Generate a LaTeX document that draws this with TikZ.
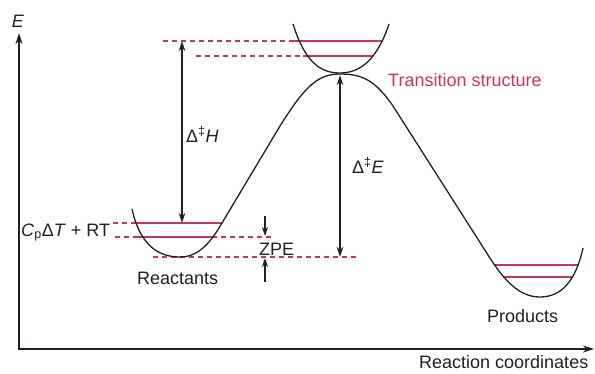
\documentclass[tikz,border=0pt]{standalone}
\usepackage{fontspec}
\setmainfont{Liberation Sans}
\usetikzlibrary{arrows.meta}
\definecolor{mag}{RGB}{200,50,105}
\definecolor{ink}{RGB}{35,31,32}
\begin{document}
\begin{tikzpicture}[x=1pt,y=-1pt,
  every node/.style={font=\fontsize{18}{21}\selectfont, text=ink, inner sep=0pt},
  curve/.style={draw=ink, line width=1.3pt},
  lvl/.style={draw=mag, line width=1.4pt},
  lvldash/.style={draw=mag, line width=1.4pt, dash pattern=on 5pt off 4pt},
  axis/.style={draw=ink, line width=2pt, {Stealth[length=11pt,width=7pt]}-{Stealth[length=11pt,width=7pt]}},
  dbl/.style={draw=ink, line width=1.5pt, {Stealth[length=10pt,width=6.5pt]}-{Stealth[length=10pt,width=6.5pt]}},
  sgl/.style={draw=ink, line width=1.5pt, -{Stealth[length=9pt,width=6pt]}}]
\useasboundingbox (0,0) rectangle (595,373);

% axes
\coordinate (O) at (19,349);
\coordinate (Ytop) at (19,33);
\coordinate (Xend) at (594,349);
\draw[axis] (Ytop) -- (O) -- (Xend);

% energy levels (dashed guides)
\draw[lvldash] (163,41) -- (298,41);
\draw[lvldash] (196,56) -- (305,56);
\draw[lvldash] (113,223) -- (136,223);
\draw[lvldash] (115,237) -- (140,237);
\draw[lvldash] (212,237) -- (273,237);
\draw[lvldash] (153,257) -- (358,257);

% energy levels (solid)
\draw[lvl] (293,41) -- (382,41);
\draw[lvl] (303,56) -- (373,56);
\draw[lvl] (133,223) -- (222,223);
\draw[lvl] (138,237) -- (212,237);
\draw[lvl] (494,265) -- (578,265);
\draw[lvl] (503,277) -- (573,277);

% potential curve
\draw[curve] (132,209) .. controls (140,245) and (158,257) .. (180,257)
  .. controls (200,257) and (212,240) .. (222,223) -- (280,126)
  .. controls (305,86) and (318,74) .. (340,74)
  .. controls (362,74) and (375,80) .. (393,106) -- (488,255)
  .. controls (505,282) and (520,297) .. (540,297)
  .. controls (562,297) and (576,280) .. (583,248);
% transition structure well
\draw[curve] (293,24) .. controls (305,62) and (320,73) .. (340,73)
  .. controls (360,73) and (377,60) .. (389,24);

% arrows
\coordinate (Ht) at (182,41);
\coordinate (Hb) at (182,223);
\draw[dbl] (Ht) -- (Hb);
\coordinate (Et) at (340,75);
\coordinate (Eb) at (340,257);
\draw[dbl] (Et) -- (Eb);
\coordinate (Z1s) at (265,216);
\coordinate (Z1e) at (265,236);
\coordinate (Z2s) at (265,282);
\coordinate (Z2e) at (265,258);
\draw[sgl] (Z1s) -- (Z1e);
\draw[sgl] (Z2s) -- (Z2e);

% labels
\node[anchor=base] (lE) at (18,27) {\textit{E}};
\node[anchor=base west] (lH) at (186,142) {Δ\textsuperscript{‡}\textit{H}};
\node[anchor=base west] (lDE) at (352,173) {Δ\textsuperscript{‡}\textit{E}};
\node[anchor=base west, text=mag] (lTS) at (388,86) {Transition structure};
\node[anchor=base west] (lCp) at (21,236) {\textit{C}\textsubscript{p}Δ\textit{T} + RT};
\node[anchor=base west] (lZPE) at (259,255) {ZPE};
\node[anchor=base west] (lR) at (137,284) {Reactants};
\node[anchor=base west] (lP) at (487,322) {Products};
\node[anchor=base west] (lRC) at (419,368.5) {Reaction coordinates};
\end{tikzpicture}
\end{document}
